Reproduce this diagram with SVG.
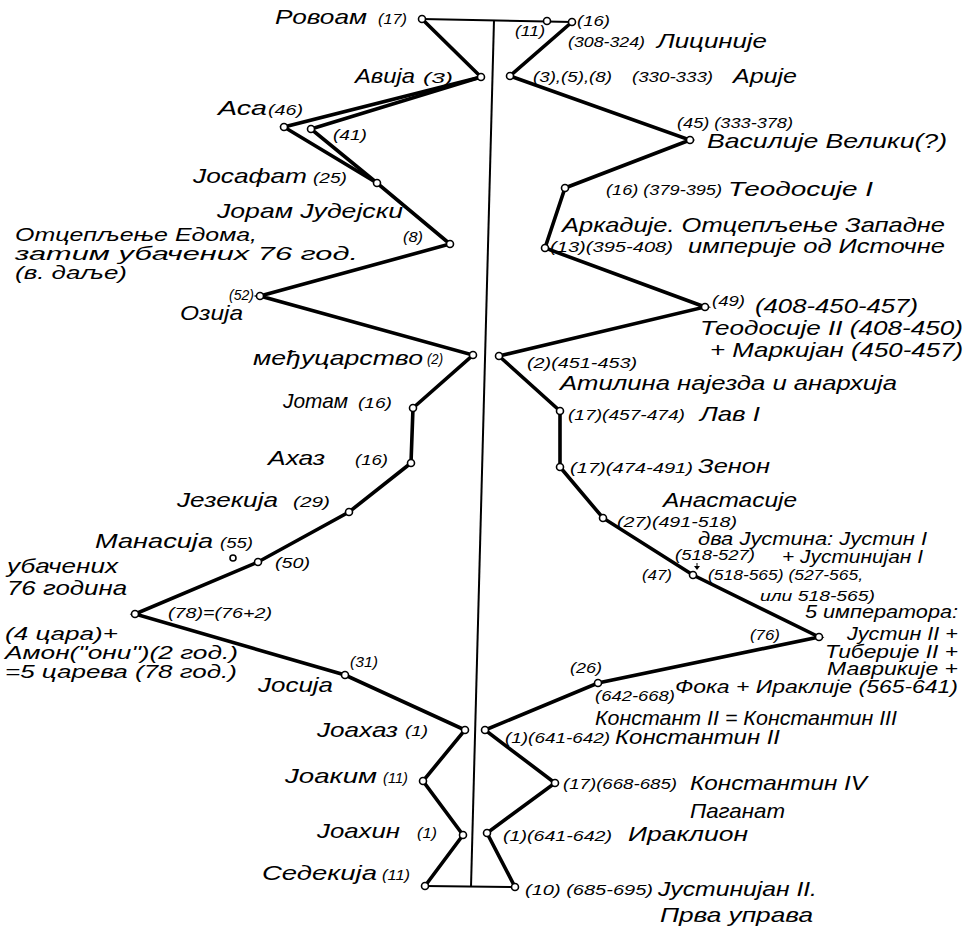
<svg xmlns="http://www.w3.org/2000/svg" width="976" height="932" viewBox="0 0 976 932">
<style>
text{font-family:"Liberation Sans",Arial,sans-serif;font-style:italic;fill:#000}
.b{font-size:21px}
.t{font-size:18.5px}
.s{font-size:15px}
.thick{fill:none;stroke:#000;stroke-width:3.6;stroke-linejoin:miter;stroke-linecap:round}
.thin{fill:none;stroke:#000;stroke-width:2}
.n{fill:#fff;stroke:#000;stroke-width:1.6}
</style>
<rect width="976" height="932" fill="#fff"/>
<g id="connectors">
<line class="thin" x1="494" y1="20" x2="471" y2="887"/>
<line class="thin" x1="422" y1="19" x2="572" y2="22"/>
<line class="thin" x1="425" y1="886" x2="515" y2="887"/>
<polyline class="thick" points="422,19 481,77 284,127 377,183 450,244 260,296 473,355 413,408 411,463 349,512 258,562 135,614 345,675 465,730 423,781 463,835 425,886"/>
<polyline class="thick" points="481,77 311,129 377,183"/>
<polyline class="thick" points="572,22 510,76 690,140 565,188 545,248 705,307 499,356 560,411 560,467 603,518 693,575 819,637 598,683 485,730 555,783 487,833 515,887"/>
<line x1="697" y1="563" x2="697" y2="566" stroke="#000" stroke-width="1"/>
<polygon points="694,566 700,566 697,570" fill="#000"/>
</g>
<g id="n-rovoam"><circle class="n" cx="422" cy="19" r="3.5"/><text class="b" x="275" y="24" textLength="92" lengthAdjust="spacingAndGlyphs">Ровоам</text><text class="s" x="378" y="24" textLength="29" lengthAdjust="spacingAndGlyphs">(17)</text></g>
<g id="n-avija"><circle class="n" cx="481" cy="77" r="3.5"/><text class="b" x="355" y="83" textLength="60" lengthAdjust="spacingAndGlyphs">Авија</text><text class="s" x="423" y="83" textLength="30" lengthAdjust="spacingAndGlyphs">(3)</text></g>
<g id="n-asa"><circle class="n" cx="284" cy="127" r="3.5"/><text class="b" x="218" y="115" textLength="49" lengthAdjust="spacingAndGlyphs">Аса</text><text class="s" x="268" y="115" textLength="35" lengthAdjust="spacingAndGlyphs">(46)</text></g>
<g id="n-41"><circle class="n" cx="311" cy="129" r="3.5"/><text class="s" x="333" y="140" textLength="34" lengthAdjust="spacingAndGlyphs">(41)</text></g>
<g id="n-josafat"><circle class="n" cx="377" cy="183" r="3.5"/><text class="b" x="193" y="183" textLength="114" lengthAdjust="spacingAndGlyphs">Јосафат</text><text class="s" x="313" y="183" textLength="34" lengthAdjust="spacingAndGlyphs">(25)</text></g>
<g id="n-joram"><circle class="n" cx="450" cy="244" r="3.5"/><text class="b" x="217" y="218" textLength="186" lengthAdjust="spacingAndGlyphs">Јорам Јудејски</text><text class="s" x="403" y="242" textLength="20" lengthAdjust="spacingAndGlyphs">(8)</text>
<text class="t" x="15" y="241" textLength="242" lengthAdjust="spacingAndGlyphs">Отцепљење Едома,</text><text class="t" x="15" y="260" textLength="343" lengthAdjust="spacingAndGlyphs">затим убачених 76 год.</text><text class="t" x="15" y="279" textLength="112" lengthAdjust="spacingAndGlyphs">(в. даље)</text></g>
<g id="n-ozija"><circle class="n" cx="260" cy="296" r="3.5"/><text class="s" x="229" y="300" textLength="25" lengthAdjust="spacingAndGlyphs">(52)</text><text class="b" x="180" y="320" textLength="63" lengthAdjust="spacingAndGlyphs">Озија</text></g>
<g id="n-medjucarstvo"><circle class="n" cx="473" cy="355" r="3.5"/><text class="b" x="253" y="365" textLength="170" lengthAdjust="spacingAndGlyphs">међуцарство</text><text class="s" x="427" y="364" textLength="16" lengthAdjust="spacingAndGlyphs">(2)</text></g>
<g id="n-jotam"><circle class="n" cx="413" cy="408" r="3.5"/><text class="b" x="283" y="408" textLength="65" lengthAdjust="spacingAndGlyphs">Јотам</text><text class="s" x="358" y="408" textLength="34" lengthAdjust="spacingAndGlyphs">(16)</text></g>
<g id="n-ahaz"><circle class="n" cx="411" cy="463" r="3.5"/><text class="b" x="268" y="465" textLength="57" lengthAdjust="spacingAndGlyphs">Ахаз</text><text class="s" x="355" y="465" textLength="33" lengthAdjust="spacingAndGlyphs">(16)</text></g>
<g id="n-jezekija"><circle class="n" cx="349" cy="512" r="3.5"/><text class="b" x="177" y="507" textLength="101" lengthAdjust="spacingAndGlyphs">Језекија</text><text class="s" x="293" y="507" textLength="37" lengthAdjust="spacingAndGlyphs">(29)</text></g>
<g id="n-manasija"><circle class="n" cx="233" cy="558" r="3"/><text class="b" x="95" y="548" textLength="118" lengthAdjust="spacingAndGlyphs">Манасија</text><text class="s" x="220" y="548" textLength="33" lengthAdjust="spacingAndGlyphs">(55)</text></g>
<g id="n-50"><circle class="n" cx="258" cy="562" r="3.5"/><text class="s" x="275" y="568" textLength="35" lengthAdjust="spacingAndGlyphs">(50)</text></g>
<g id="n-78"><circle class="n" cx="135" cy="614" r="3.5"/><text class="s" x="168" y="618" textLength="104" lengthAdjust="spacingAndGlyphs">(78)=(76+2)</text>
<text class="b" x="7" y="573" textLength="111" lengthAdjust="spacingAndGlyphs">убачених</text><text class="b" x="7" y="595" textLength="120" lengthAdjust="spacingAndGlyphs">76 година</text>
<text class="t" x="5" y="640" textLength="113" lengthAdjust="spacingAndGlyphs">(4 цара)+</text><text class="t" x="5" y="659" textLength="233" lengthAdjust="spacingAndGlyphs">Амон("они")(2 год.)</text><text class="t" x="5" y="678" textLength="232" lengthAdjust="spacingAndGlyphs">=5 царева (78 год.)</text></g>
<g id="n-josija"><circle class="n" cx="345" cy="675" r="3.5"/><text class="s" x="350" y="667" textLength="28" lengthAdjust="spacingAndGlyphs">(31)</text><text class="b" x="258" y="692" textLength="75" lengthAdjust="spacingAndGlyphs">Јосија</text></g>
<g id="n-joahaz"><circle class="n" cx="465" cy="730" r="3.5"/><text class="b" x="317" y="737" textLength="81" lengthAdjust="spacingAndGlyphs">Јоахаз</text><text class="s" x="405" y="736" textLength="23" lengthAdjust="spacingAndGlyphs">(1)</text></g>
<g id="n-joakim"><circle class="n" cx="423" cy="781" r="3.5"/><text class="b" x="285" y="783" textLength="92" lengthAdjust="spacingAndGlyphs">Јоаким</text><text class="s" x="383" y="783" textLength="25" lengthAdjust="spacingAndGlyphs">(11)</text></g>
<g id="n-joahin"><circle class="n" cx="463" cy="835" r="3.5"/><text class="b" x="317" y="838" textLength="83" lengthAdjust="spacingAndGlyphs">Јоахин</text><text class="s" x="417" y="838" textLength="20" lengthAdjust="spacingAndGlyphs">(1)</text></g>
<g id="n-sedekija"><circle class="n" cx="425" cy="886" r="3.5"/><text class="b" x="262" y="880" textLength="115" lengthAdjust="spacingAndGlyphs">Седекија</text><text class="s" x="382" y="880" textLength="28" lengthAdjust="spacingAndGlyphs">(11)</text></g>
<g id="n-11"><circle class="n" cx="547" cy="21" r="3.5"/><text class="s" x="515" y="36" textLength="30" lengthAdjust="spacingAndGlyphs">(11)</text></g>
<g id="n-licinije"><circle class="n" cx="572" cy="22" r="3.5"/><text class="s" x="577" y="26" textLength="33" lengthAdjust="spacingAndGlyphs">(16)</text><text class="s" x="568" y="47" textLength="77" lengthAdjust="spacingAndGlyphs">(308-324)</text><text class="b" x="657" y="48" textLength="110" lengthAdjust="spacingAndGlyphs">Лициније</text></g>
<g id="n-arije"><circle class="n" cx="510" cy="76" r="3.5"/><text class="s" x="533" y="82" textLength="79" lengthAdjust="spacingAndGlyphs">(3),(5),(8)</text><text class="s" x="632" y="82" textLength="81" lengthAdjust="spacingAndGlyphs">(330-333)</text><text class="b" x="733" y="83" textLength="64" lengthAdjust="spacingAndGlyphs">Арије</text></g>
<g id="n-vasilije"><circle class="n" cx="690" cy="140" r="3.5"/><text class="s" x="677" y="128" textLength="116" lengthAdjust="spacingAndGlyphs">(45) (333-378)</text><text class="b" x="707" y="148" textLength="240" lengthAdjust="spacingAndGlyphs">Василије Велики(?)</text></g>
<g id="n-teodosije1"><circle class="n" cx="565" cy="188" r="3.5"/><text class="s" x="606" y="195" textLength="116" lengthAdjust="spacingAndGlyphs">(16) (379-395)</text><text class="b" x="728" y="196" textLength="145" lengthAdjust="spacingAndGlyphs">Теодосије I</text></g>
<g id="n-arkadije"><circle class="n" cx="545" cy="248" r="3.5"/><text class="b" x="562" y="232" textLength="383" lengthAdjust="spacingAndGlyphs">Аркадије. Отцепљење Западне</text><text class="s" x="550" y="252" textLength="123" lengthAdjust="spacingAndGlyphs">(13)(395-408)</text><text class="b" x="688" y="253" textLength="257" lengthAdjust="spacingAndGlyphs">империје од Источне</text></g>
<g id="n-teodosije2"><circle class="n" cx="705" cy="307" r="3.5"/><text class="s" x="712" y="306" textLength="33" lengthAdjust="spacingAndGlyphs">(49)</text><text class="b" x="755" y="313" textLength="163" lengthAdjust="spacingAndGlyphs">(408-450-457)</text><text class="b" x="700" y="335" textLength="263" lengthAdjust="spacingAndGlyphs">Теодосије II (408-450)</text><text class="b" x="710" y="357" textLength="253" lengthAdjust="spacingAndGlyphs">+ Маркијан (450-457)</text></g>
<g id="n-atila"><circle class="n" cx="499" cy="356" r="3.5"/><text class="s" x="527" y="368" textLength="110" lengthAdjust="spacingAndGlyphs">(2)(451-453)</text><text class="b" x="560" y="390" textLength="337" lengthAdjust="spacingAndGlyphs">Атилина најезда и анархија</text></g>
<g id="n-lav"><circle class="n" cx="560" cy="411" r="3.5"/><text class="s" x="568" y="420" textLength="117" lengthAdjust="spacingAndGlyphs">(17)(457-474)</text><text class="b" x="700" y="421" textLength="60" lengthAdjust="spacingAndGlyphs">Лав I</text></g>
<g id="n-zenon"><circle class="n" cx="560" cy="467" r="3.5"/><text class="s" x="570" y="473" textLength="123" lengthAdjust="spacingAndGlyphs">(17)(474-491)</text><text class="b" x="698" y="473" textLength="72" lengthAdjust="spacingAndGlyphs">Зенон</text></g>
<g id="n-anastasije"><circle class="n" cx="603" cy="518" r="3.5"/><text class="b" x="663" y="507" textLength="134" lengthAdjust="spacingAndGlyphs">Анастасије</text><text class="s" x="617" y="527" textLength="120" lengthAdjust="spacingAndGlyphs">(27)(491-518)</text></g>
<g id="n-justin"><circle class="n" cx="693" cy="575" r="3.5"/><text class="t" x="698" y="545" textLength="229" lengthAdjust="spacingAndGlyphs">два Јустина: Јустин I</text><text class="s" x="675" y="560" textLength="80" lengthAdjust="spacingAndGlyphs">(518-527)</text><text class="t" x="782" y="563" textLength="141" lengthAdjust="spacingAndGlyphs">+ Јустинијан I</text><text class="s" x="642" y="580" textLength="30" lengthAdjust="spacingAndGlyphs">(47)</text><text class="s" x="708" y="580" textLength="155" lengthAdjust="spacingAndGlyphs">(518-565) (527-565,</text><text class="s" x="760" y="601" textLength="115" lengthAdjust="spacingAndGlyphs">или 518-565)</text></g>
<g id="n-76"><circle class="n" cx="819" cy="637" r="3.5"/><text class="s" x="750" y="640" textLength="30" lengthAdjust="spacingAndGlyphs">(76)</text><text class="t" x="805" y="618" textLength="153" lengthAdjust="spacingAndGlyphs">5 императора:</text><text class="t" x="847" y="640" textLength="111" lengthAdjust="spacingAndGlyphs">Јустин II +</text><text class="t" x="825" y="658" textLength="133" lengthAdjust="spacingAndGlyphs">Тиберије II +</text><text class="t" x="827" y="675" textLength="131" lengthAdjust="spacingAndGlyphs">Маврикије +</text><text class="t" x="675" y="693" textLength="283" lengthAdjust="spacingAndGlyphs">Фока + Ираклије (565-641)</text></g>
<g id="n-konstant"><circle class="n" cx="598" cy="683" r="3.5"/><text class="s" x="570" y="673" textLength="32" lengthAdjust="spacingAndGlyphs">(26)</text><text class="s" x="595" y="701" textLength="80" lengthAdjust="spacingAndGlyphs">(642-668)</text><text class="b" x="595" y="725" textLength="302" lengthAdjust="spacingAndGlyphs">Констант II  = Константин III</text></g>
<g id="n-konstantin2"><circle class="n" cx="485" cy="730" r="3.5"/><text class="s" x="505" y="743" textLength="105" lengthAdjust="spacingAndGlyphs">(1)(641-642)</text><text class="b" x="615" y="744" textLength="165" lengthAdjust="spacingAndGlyphs">Константин II</text></g>
<g id="n-konstantin4"><circle class="n" cx="555" cy="783" r="3.5"/><text class="s" x="563" y="789" textLength="114" lengthAdjust="spacingAndGlyphs">(17)(668-685)</text><text class="b" x="690" y="790" textLength="177" lengthAdjust="spacingAndGlyphs">Константин IV</text><text class="b" x="690" y="818" textLength="95" lengthAdjust="spacingAndGlyphs">Паганат</text></g>
<g id="n-iraklion"><circle class="n" cx="487" cy="833" r="3.5"/><text class="s" x="503" y="841" textLength="109" lengthAdjust="spacingAndGlyphs">(1)(641-642)</text><text class="b" x="628" y="841" textLength="120" lengthAdjust="spacingAndGlyphs">Ираклион</text></g>
<g id="n-justinijan2"><circle class="n" cx="515" cy="887" r="3.5"/><text class="s" x="525" y="895" textLength="128" lengthAdjust="spacingAndGlyphs">(10) (685-695)</text><text class="b" x="658" y="896" textLength="159" lengthAdjust="spacingAndGlyphs">Јустинијан II.</text><text class="b" x="660" y="922" textLength="153" lengthAdjust="spacingAndGlyphs">Прва управа</text></g>
</svg>
